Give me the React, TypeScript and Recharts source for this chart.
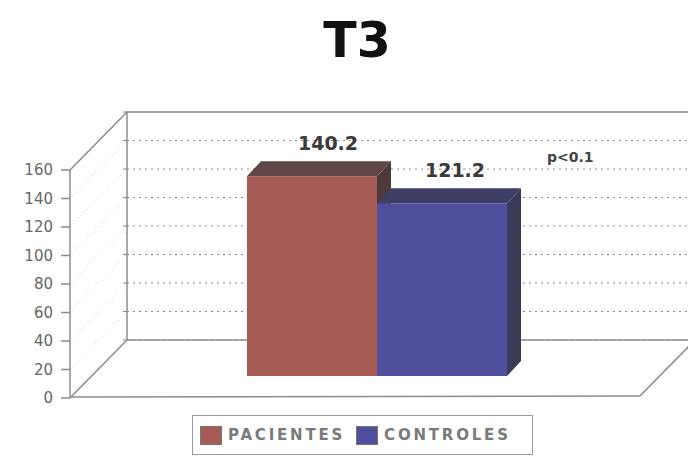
import React from "react";
import { BarChart, Bar, XAxis, YAxis, CartesianGrid, LabelList, Legend, Customized } from "recharts";

const categories = ["T3"];
const seriesNames = ["PACIENTES", "CONTROLES"];
const pacientes = [140.2];
const controles = [121.2];
const yTicks = [0, 20, 40, 60, 80, 100, 120, 140, 160];
const title = "T3";
const note = "p<0.1";

const data = categories.map((c, i) => ({
  name: c,
  [seriesNames[0]]: pacientes[i],
  [seriesNames[1]]: controles[i],
}));

const W = 688;
const H = 466;
const M = { top: 170, right: 48, bottom: 68, left: 0 };
const AXW = 70;
const DX = 57; // wall depth
const DY = 58;
const BX = 22; // bar position inside depth
const BY = 22;
const FX = 14; // bar own depth
const FY = 15;
const FONT = '"DejaVu Sans", sans-serif';

const COLORS = {
  redFront: "#a65c55",
  redTop: "#5e4746",
  redSide: "#4e3a3a",
  blueFront: "#4f4f9d",
  blueTop: "#3f3f66",
  blueSide: "#3b3b58",
};

const makeShape = (front: string, top: string, side: string) => (p: any) => {
  const x = p.x + BX;
  const y = p.y - BY;
  const w = p.width;
  const h = p.height;
  return (
    <g>
      <polygon
        points={`${x + w},${y} ${x + w + FX},${y - FY} ${x + w + FX},${y + h - FY} ${x + w},${y + h}`}
        fill={side}
      />
      <polygon
        points={`${x},${y} ${x + FX},${y - FY} ${x + w + FX},${y - FY} ${x + w},${y}`}
        fill={top}
      />
      <rect x={x} y={y} width={w} height={h} fill={front} />
    </g>
  );
};

const makeLabel = (dxExtra: number) => (p: any) => {
  const cx = p.x + p.width / 2 + BX + dxExtra;
  const cy = p.y - BY - 26;
  return (
    <text
      x={cx}
      y={cy}
      textAnchor="middle"
      fontFamily={FONT}
      fontWeight="bold"
      fontSize={19}
      fill="#3a3a3a"
    >
      {String(p.value)}
    </text>
  );
};

const gridLine = (p: any) => {
  const { x1, y1 } = p;
  return (
    <g key={`g-${y1}`}>
      <line x1={x1} y1={y1} x2={x1 + DX} y2={y1 - DY} stroke="#c8c8c8" strokeDasharray="1 3" />
      <line x1={x1 + DX} y1={y1 - DY} x2={W} y2={y1 - DY} stroke="#8a8a8a" strokeDasharray="2 4" />
      <line x1={x1 + DX - 4} y1={y1 - DY} x2={x1 + DX} y2={y1 - DY} stroke="#888" />
    </g>
  );
};

const Frame = () => {
  const left = AXW;
  const top = M.top;
  const bottom = H - M.bottom;
  const right = W - M.right;
  const c = "#8c8c8c";
  return (
    <g>
      <text x={357} y={57} textAnchor="middle" fontFamily={FONT} fontWeight="bold" fontSize={49} fill="#111">
        {title}
      </text>
      <line x1={left + DX} y1={top - DY} x2={W} y2={top - DY} stroke={c} strokeWidth={1.5} />
      <line x1={left + DX} y1={bottom - DY} x2={W} y2={bottom - DY} stroke={c} strokeWidth={1.5} />
      <line x1={left + DX} y1={top - DY} x2={left + DX} y2={bottom - DY} stroke={c} strokeWidth={1.5} />
      <line x1={left} y1={top} x2={left + DX} y2={top - DY} stroke={c} strokeWidth={1.5} />
      <line x1={left} y1={bottom} x2={left + DX} y2={bottom - DY} stroke={c} strokeWidth={1.5} />
      <line x1={left} y1={bottom - 1} x2={right} y2={bottom - 2} stroke={c} strokeWidth={1.5} />
      <line x1={right} y1={bottom - 2} x2={right + DX} y2={bottom - 2 - DY} stroke={c} strokeWidth={1.5} />
      <text x={547} y={162} fontFamily={FONT} fontWeight="bold" fontSize={14} fill="#444">
        {note}
      </text>
    </g>
  );
};

const renderLegend = (props: any) => {
  const payload = [...(props.payload || [])].sort(
    (a: any, b: any) => seriesNames.indexOf(a.value) - seriesNames.indexOf(b.value)
  );
  return (
    <div
      style={{
        boxSizing: "border-box",
        width: 341,
        height: 40,
        border: "1.5px solid #9a9a9a",
        display: "flex",
        alignItems: "center",
        paddingLeft: 7,
      }}
    >
      {payload.map((e: any, i: number) => (
        <div key={i} style={{ display: "flex", alignItems: "center", marginRight: 11 }}>
          <span
            style={{
              display: "inline-block",
              width: 22,
              height: 19,
              background: e.color,
              border: "1px solid #777",
              boxSizing: "border-box",
              marginRight: 6,
            }}
          />
          <span style={{ fontFamily: FONT, fontWeight: "bold", fontSize: 15, letterSpacing: 2.8, color: "#7a7a7a" }}>
            {e.value}
          </span>
        </div>
      ))}
    </div>
  );
};

export default function App() {
  return (
    <div style={{ position: "absolute", left: 0, top: 0, width: W, height: H, background: "#fff", fontFamily: FONT }}>
      <BarChart width={W} height={H} data={data} margin={M} barGap={0} barSize={130}>
        <Customized component={Frame} />
        <CartesianGrid horizontal={gridLine} vertical={false} />
        <XAxis dataKey="name" hide />
        <YAxis
          width={AXW}
          domain={[0, 160]}
          ticks={yTicks}
          interval={0}
          tickSize={9}
          tickMargin={8}
          axisLine={{ stroke: "#8c8c8c", strokeWidth: 1.5 }}
          tickLine={{ stroke: "#8c8c8c", strokeWidth: 1.5 }}
          tick={{ fontFamily: FONT, fontSize: 15, fill: "#666" }}
        />
        <Legend
          content={renderLegend}
          layout="horizontal"
          verticalAlign="middle"
          align="center"
          wrapperStyle={{ position: "absolute", left: 192, top: 415, width: 341, height: 40 }}
        />
        <Bar
          dataKey={seriesNames[0]}
          fill={COLORS.redFront}
          isAnimationActive={false}
          shape={makeShape(COLORS.redFront, COLORS.redTop, COLORS.redSide)}
        >
          <LabelList dataKey={seriesNames[0]} content={makeLabel(16)} />
        </Bar>
        <Bar
          dataKey={seriesNames[1]}
          fill={COLORS.blueFront}
          isAnimationActive={false}
          shape={makeShape(COLORS.blueFront, COLORS.blueTop, COLORS.blueSide)}
        >
          <LabelList dataKey={seriesNames[1]} content={makeLabel(13)} />
        </Bar>
      </BarChart>
    </div>
  );
}
